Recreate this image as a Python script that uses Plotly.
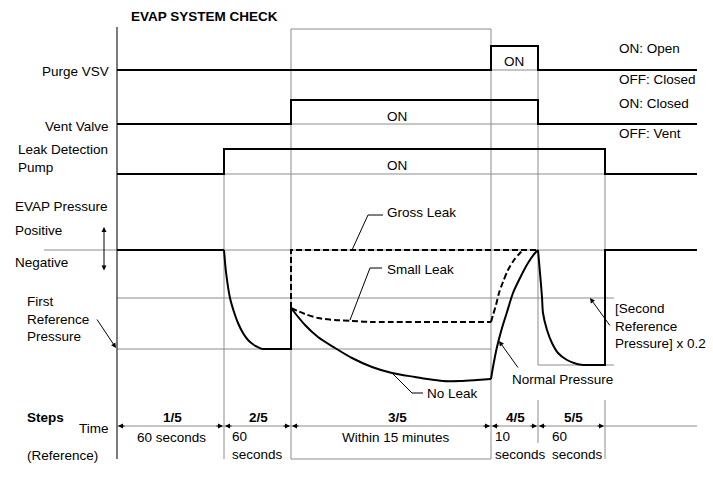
import plotly.graph_objects as go

# ---------------- data ----------------
# step boundaries on the time axis
step_edges = [117, 224, 291, 491, 538, 605]
time_axis_end = 697
step_names = ["1/5", "2/5", "3/5", "4/5", "5/5"]
step_times = ["60 seconds", "60<br>seconds", "Within 15 minutes", "10<br>seconds", "60<br>seconds"]

# on/off signals (time, level)
purge_t = [117, 491, 491, 538, 538, 697]
purge_v = [70, 70, 46, 46, 70, 70]
vent_t = [117, 291, 291, 538, 538, 697]
vent_v = [124, 124, 100, 100, 124, 124]
pump_t = [117, 224, 224, 605, 605, 697]
pump_v = [174, 174, 149, 149, 174, 174]

# pressure levels
p_atm = 250
p_first_ref = 349
p_mid = 298
p_second_ref = 365

# EVAP pressure curves (time, pressure)
p1_t = [117, 224]
p1_v = [250, 250]
drop2_t = [224, 226, 230, 234, 238, 243, 248, 254, 262]
drop2_v = [250, 272, 298, 312, 323, 333, 340, 345, 349]
hold2_t = [262, 291, 291]
hold2_v = [349, 349, 308]
noleak_t = [291, 305, 318, 335, 352, 372, 392, 415, 427, 443, 460, 477, 491]
noleak_v = [308, 325, 337, 348, 358, 367, 373, 377, 379, 381, 381, 380, 379]
rise4_t = [491, 493, 497, 502, 507, 513, 520, 528, 535, 538]
rise4_v = [379, 367, 347, 328, 312, 293, 278, 263, 253, 250]
drop5_t = [538, 540, 542, 543, 547, 552, 558, 567, 577, 583]
drop5_v = [250, 273, 297, 313, 330, 343, 353, 360, 364, 365]
end5_t = [583, 605, 605, 697]
end5_v = [365, 365, 250, 250]
gross_t = [291, 291, 538]
gross_v = [308, 250, 250]
small_t = [291, 305, 318, 335, 352, 372, 415]
small_v = [308, 314, 318, 320, 321, 322, 322]
small_flat_t = [415, 491]
small_flat_v = [322, 322]
small_rise_t = [491, 493, 496, 499, 503, 508, 514, 520, 523]
small_rise_v = [322, 315, 305, 293, 282, 270, 260, 253, 250]

# ---------------- figure ----------------
FONT = "Liberation Sans, Arial, Helvetica, sans-serif"
GREY = "#8c8c8c"
DASH = "6px,3px"
fig = go.Figure()


def line(x, y, color="black", width=2, dash=None, shape="linear"):
    fig.add_trace(go.Scatter(
        x=x, y=y, mode="lines", hoverinfo="skip", showlegend=False,
        line=dict(color=color, width=width, dash=dash, shape=shape, smoothing=0.8)))


# grey reference lines
line([44, time_axis_end], [p_atm, p_atm], GREY, 1)
line([117, 614], [p_mid, p_mid], GREY, 1)
line([117, 491], [p_first_ref, p_first_ref], GREY, 1)
line([538, 614], [p_second_ref, p_second_ref], GREY, 1)
line([491, 538], [70, 70], GREY, 1)
line([291, 538], [124, 124], GREY, 1)
line([224, 605], [174, 174], GREY, 1)
line([117, time_axis_end], [426, 426], GREY, 1)
# grey verticals
line([224, 224], [174, 459], GREY, 1)
line([291, 491, 491, 291, 291], [29, 29, 459, 459, 29], GREY, 1)
line([538, 538], [46, 365], GREY, 1)
line([538, 538], [400, 443], GREY, 1)
line([605, 605], [174, 365], GREY, 1)
line([605, 605], [400, 459], GREY, 1)
# left axis
line([117, 117], [27, 459], "#333333", 1.3)

# signals
line(purge_t, purge_v)
line(vent_t, vent_v)
line(pump_t, pump_v)

# pressure
line(p1_t, p1_v)
line(drop2_t, drop2_v, shape="spline")
line(hold2_t, hold2_v)
line(gross_t, gross_v, dash=DASH)
line(small_t, small_v, dash=DASH, shape="spline")
line(small_flat_t, small_flat_v, dash=DASH)
line(small_rise_t, small_rise_v, dash=DASH, shape="spline")
line(noleak_t, noleak_v, shape="spline")
line(rise4_t, rise4_v, shape="spline")
line(drop5_t, drop5_v, shape="spline")
line(end5_t, end5_v)

# leader lines for labels
line([352, 368, 383], [250, 215, 215], "black", 1)
line([350, 370, 382], [320, 268, 268], "black", 1)
line([392, 412, 423], [373, 393, 393], "black", 1)

ann = []


def text(t, x, y, anchor="left", bold=False, size=13.5):
    ann.append(dict(text=f"<b>{t}</b>" if bold else t, x=x, y=y, xref="x", yref="y",
                    xanchor=anchor, yanchor="middle", showarrow=False, align=anchor if anchor != "center" else "center",
                    font=dict(family=FONT, size=size, color="black")))


def arrow(hx, hy, tx, ty, side="end", color="black"):
    ann.append(dict(x=hx, y=hy, ax=tx, ay=ty, xref="x", yref="y", axref="x", ayref="y",
                    text="", showarrow=True, arrowhead=2, arrowsize=1, arrowwidth=1,
                    arrowcolor=color, arrowside=side, standoff=0, startstandoff=0))


text("EVAP SYSTEM CHECK", 204, 16, "center", bold=True)
text("Purge VSV", 111, 71, "right")
text("Vent Valve", 111, 126, "right")
text("Leak Detection<br>Pump", 16, 158)
text("EVAP Pressure", 13, 206)
text("Positive", 13, 230)
text("Negative", 13, 262)
text("First<br>Reference<br>Pressure", 25, 319)
text("Steps", 25, 417, bold=True)
text("Time", 111, 428, "right")
text("(Reference)", 25, 455)

text("ON", 514, 61, "center")
text("ON", 397, 116, "center")
text("ON", 397, 165, "center")
text("ON: Open", 617, 48)
text("OFF: Closed", 617, 79)
text("ON: Closed", 617, 103)
text("OFF: Vent", 617, 133)

text("Gross Leak", 385, 212)
text("Small Leak", 385, 269)
text("No Leak", 425, 393)
text("Normal Pressure", 510, 379)
text("[Second<br>Reference<br>Pressure] x 0.2", 613, 326)

# arrows
arrow(104, 227, 104, 272, side="end+start")
arrow(116, 348, 96, 318)
arrow(499, 341, 519, 369)
arrow(590, 298, 611, 327)

# steps and time axis
name_x = [172, 258, 397, 515, 573]
time_x = [171, 230, 396, 493, 550]
for i, nm in enumerate(step_names):
    a, b = step_edges[i], step_edges[i + 1]
    text(nm, name_x[i], 417, "center", bold=True)
    if "<br>" in step_times[i]:
        text(step_times[i], time_x[i], 445, "left")
    else:
        text(step_times[i], time_x[i], 437, "center")
    arrow(a + 1, 426, a + 9, 426)
    arrow(b - 1, 426, b - 9, 426)

fig.update_layout(
    width=713, height=481, margin=dict(l=0, r=0, t=0, b=0),
    paper_bgcolor="white", plot_bgcolor="white",
    xaxis=dict(range=[0, 713], visible=False, fixedrange=True),
    yaxis=dict(range=[481, 0], visible=False, fixedrange=True),
    annotations=ann, showlegend=False,
)
fig.write_html("out.html", config={"displayModeBar": False},
               post_script="document.body.style.margin='0';document.body.style.overflow='hidden';")
